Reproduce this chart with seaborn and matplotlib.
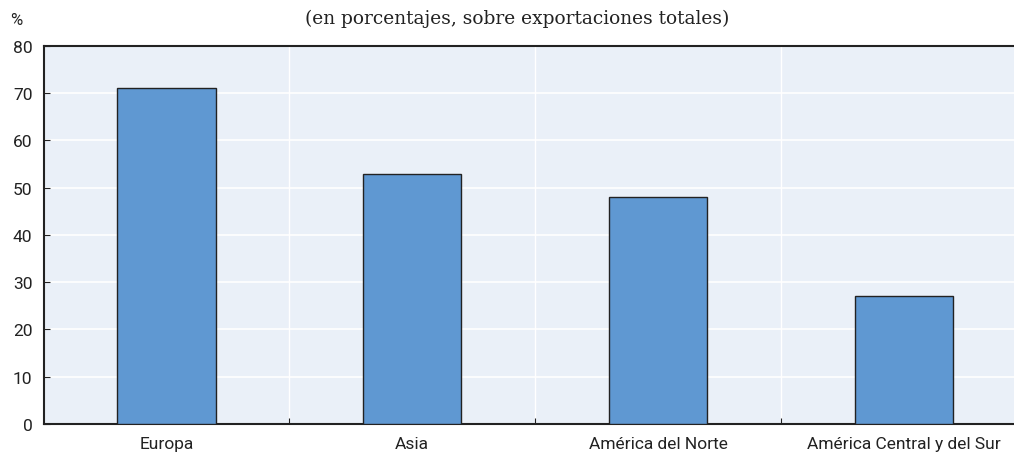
import matplotlib
matplotlib.use("Agg")
import matplotlib.pyplot as plt
import seaborn as sns
import pandas as pd
from matplotlib.ticker import FixedLocator

categories = ["Europa", "Asia", "América del Norte", "América Central y del Sur"]
values = [71, 53, 48, 27]
yticks = [0, 10, 20, 30, 40, 50, 60, 70, 80]
title = "(en porcentajes, sobre exportaciones totales)"

sns.set_theme(style="white")
plt.rcParams['font.family'] = ['Roboto', 'DejaVu Sans']

df = pd.DataFrame({"cat": categories, "val": values})

fig = plt.figure(figsize=(10.14, 4.56), dpi=100)
ax = fig.add_axes([0.043, 0.068, 0.9695, 0.829])
ax.set_facecolor("#EAF0F8")

sns.barplot(data=df, x="cat", y="val", color="#5F98D2", saturation=1,
            edgecolor="#222222", linewidth=1.0, width=0.40, ax=ax, zorder=3)

ax.set_ylim(0, 80)
ax.set_xlim(-0.5, len(categories) - 0.5)
ax.set_yticks(yticks)
ax.xaxis.set_minor_locator(FixedLocator([i + 0.5 for i in range(len(categories) - 1)]))
ax.grid(axis="y", which="major", color="white", linewidth=1.2, zorder=0)
ax.grid(axis="x", which="minor", color="white", linewidth=1.0, zorder=0)
ax.grid(axis="x", which="major", visible=False)
ax.set_axisbelow(True)

ax.tick_params(axis="y", which="major", length=4, width=0.8, color="#222222",
               direction="in", labelsize=12.5, pad=8, labelcolor="#222222", left=True)
ax.tick_params(axis="x", which="major", length=0, labelsize=12.5, pad=9, labelcolor="#222222")
ax.tick_params(axis="x", which="minor", length=4, width=0.8, color="#222222",
               direction="in", bottom=True)

for s in ["top", "bottom", "left"]:
    ax.spines[s].set_visible(True)
    ax.spines[s].set_color("#222222")
    ax.spines[s].set_linewidth(1.5)
ax.spines["right"].set_visible(False)

ax.set_xlabel("")
ax.set_ylabel("")

fig.text(0.51, 0.958, title, ha="center", va="center", fontsize=13.4,
         family=["DejaVu Serif"], color="#222222")
fig.text(0.010, 0.955, "%", ha="left", va="center", fontsize=12, color="#222222")

fig.savefig("out.png", dpi=100)
